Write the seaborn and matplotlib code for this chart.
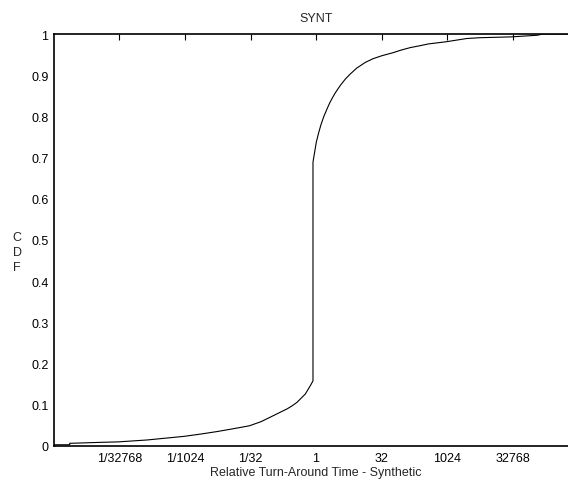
import numpy as np
import pandas as pd
import matplotlib
matplotlib.use('Agg')
import matplotlib.pyplot as plt
from matplotlib.ticker import NullLocator
import seaborn as sns

log2_rtat = [-20.0, -18.8, -18.8, -16.3, -15.1, -12.9, -10.05, -8.8, -7.56,
             -6.3, -5.09, -4.2, -3.49, -2.98, -2.6, -2.21, -1.8, -1.45, -0.82,
             -0.44, -0.23, -0.23, 0.02, 0.2, 0.38, 0.6, 0.84, 1.05, 1.27, 1.47,
             1.68, 1.9, 2.25, 2.62, 3.1, 3.76, 4.35, 5.0, 5.92, 6.5, 7.2, 8.0,
             8.6, 9.9, 11.5, 12.5, 14.9, 16.9, 17.3, 20.0]
cdf = [0.003, 0.003, 0.0065, 0.009, 0.010, 0.0146, 0.0235, 0.029, 0.035,
       0.042, 0.049, 0.059, 0.070, 0.078, 0.084, 0.090, 0.098, 0.106, 0.126,
       0.146, 0.158, 0.689, 0.737, 0.760, 0.780, 0.800, 0.818, 0.833, 0.846,
       0.857, 0.867, 0.877, 0.891, 0.903, 0.917, 0.931, 0.940, 0.947, 0.955,
       0.961, 0.967, 0.972, 0.976, 0.981, 0.989, 0.991, 0.993, 0.997, 1.0, 1.0]

xtick_vals = [2.0**-15, 2.0**-10, 2.0**-5, 1, 32, 1024, 32768]
xtick_labels = ['1/32768', '1/1024', '1/32', '1', '32', '1024', '32768']
ytick_vals = [0, 0.1, 0.2, 0.3, 0.4, 0.5, 0.6, 0.7, 0.8, 0.9, 1]
ytick_labels = ['0', '0.1', '0.2', '0.3', '0.4', '0.5', '0.6', '0.7', '0.8', '0.9', '1']

df = pd.DataFrame({'rtat': np.power(2.0, log2_rtat), 'cdf': cdf})

sns.set_style('white')
plt.rcParams['font.family'] = ['Liberation Sans', 'DejaVu Sans']
plt.rcParams['font.size'] = 9

fig = plt.figure(figsize=(5.68, 4.89), dpi=100)
# right edge of the axes runs past the picture, as in the original
ax = fig.add_axes([54/568, 42/489, 524/568, 412/489])

sns.lineplot(data=df, x='rtat', y='cdf', estimator=None, sort=False,
             color='black', linewidth=0.8, ax=ax)

ax.set_xscale('log', base=2)
ax.set_xlim(2.0**-20, 2.0**20)
ax.set_ylim(0, 1)
ax.set_xticks(xtick_vals)
ax.set_xticklabels(xtick_labels)
ax.xaxis.set_minor_locator(NullLocator())
ax.set_yticks(ytick_vals)
ax.set_yticklabels(ytick_labels)
ax.tick_params(direction='in', length=4, width=0.8, top=True, right=True,
               labelsize=9, pad=4, colors='black')

for s in ax.spines.values():
    s.set_color('black')
    s.set_linewidth(1.2)

ax.set_title('SYNT', fontsize=9, pad=9)
ax.set_xlabel('Relative Turn-Around Time - Synthetic', fontsize=9, labelpad=2)
ax.set_ylabel('')
fig.text(17/568, 1 - 253/489, 'C\nD\nF', ha='center', va='center',
         fontsize=9, linespacing=1.35)

fig.savefig('out.png', dpi=100)
